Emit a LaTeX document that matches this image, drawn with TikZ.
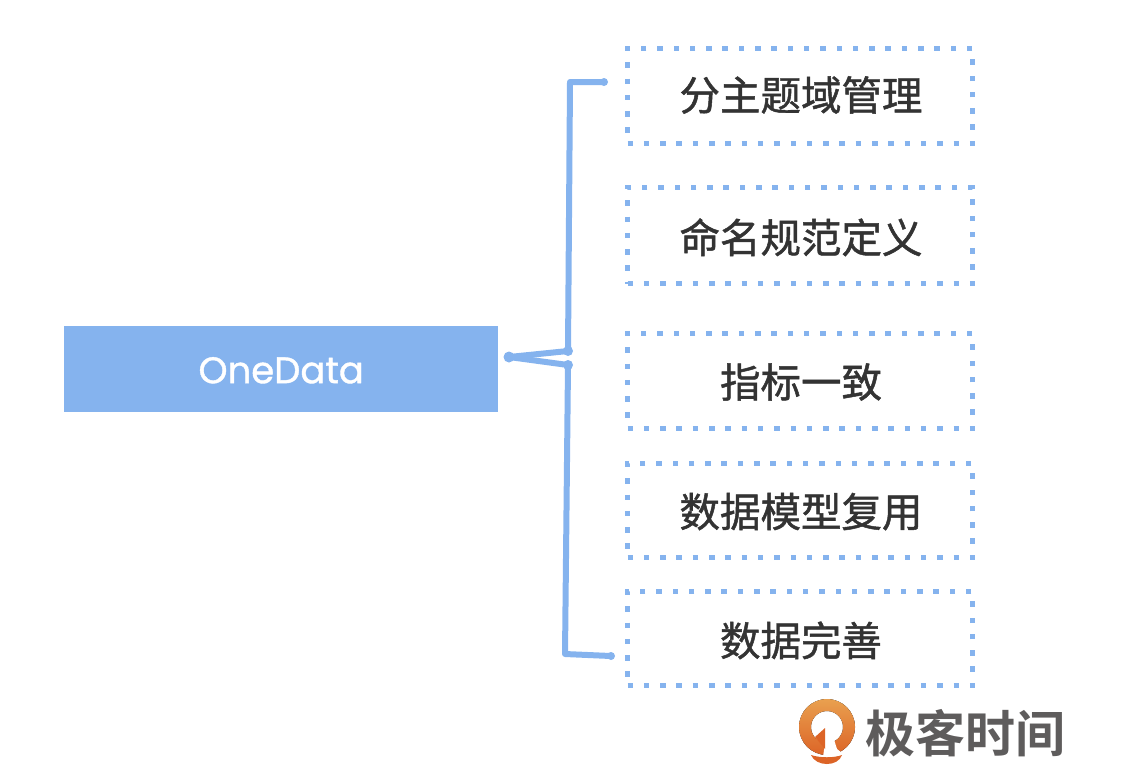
\documentclass[tikz,border=0pt]{standalone}
\usepackage{fontspec}
\newfontfamily\cjk[FakeBold=1.2]{Noto Sans CJK SC}
\newfontfamily\cjkb{Noto Sans CJK SC Bold}
\newfontfamily\latin[FakeBold=1]{Poppins}
\definecolor{blu}{HTML}{85B3EE}
\definecolor{ink}{HTML}{333333}
\definecolor{logogray}{HTML}{5E5C5C}
\definecolor{logoA}{HTML}{E9A04F}
\definecolor{logoB}{HTML}{DC6427}
\newcommand{\shifted}[2]{\raisebox{#1}[30.8pt][0pt]{#2}}
\tikzset{
  x=1pt,y=-1pt,
  itembox/.style={draw=blu,line width=5.5pt,dash pattern=on 5.5pt off 10.8pt,minimum width=345pt,inner sep=0pt,outer sep=0pt,text=ink,font=\cjk\fontsize{40.5}{40.5}\selectfont,anchor=north west},
  brace/.style={draw=blu,line width=6pt,line cap=round,line join=round},
  tip/.style={fill=blu,draw=none,circle,minimum size=11pt,inner sep=0pt}
}
\begin{document}
\begin{tikzpicture}
\useasboundingbox (0,0) rectangle (1142,780);
\node[fill=blu,minimum width=434pt,minimum height=86pt,inner sep=0pt,anchor=north west,text=white,font=\latin\fontsize{37}{37}\selectfont] (root) at (64,326) {\raisebox{-1pt}[26pt][0pt]{OneData}};
\node[itembox,minimum height=95pt] (a) at (627.5,48.5) {\hspace{2pt}\shifted{1pt}{分主题域管理}};
\node[itembox,minimum height=96pt] (b) at (627.5,187.5) {\hspace{2pt}\shifted{-2pt}{命名规范定义}};
\node[itembox,minimum height=95pt] (c) at (627.5,333.5) {\hspace{2pt}\shifted{-1pt}{指标一致}};
\node[itembox,minimum height=94pt] (d) at (627.5,463.5) {\hspace{2pt}\shifted{-1pt}{数据模型复用}};
\node[itembox,minimum height=94pt] (e) at (627.5,591.5) {\hspace{2pt}\shifted{-2pt}{数据完善}};
\coordinate (hub) at (509,357);
\coordinate (j1) at (568,351);
\coordinate (j2) at (568,365);
\coordinate (t1) at (570,82);
\coordinate (t2) at (565,654);
\coordinate (e1) at (604,82);
\coordinate (e2) at (611,656);
\draw[brace] (hub) -- (j1) -- (t1) -- (e1);
\draw[brace] (hub) -- (j2) -- (t2) -- (e2);
\node[tip] at (hub) {};
\node[tip,minimum size=10pt] at (j1) {};
\node[tip,minimum size=10pt] at (j2) {};
\node[tip,minimum size=8pt] at (e1) {};
\node[tip,minimum size=8pt] at (e2) {};
% logo
\fill[top color=logoA,bottom color=logoB,even odd rule]
  (827,727) circle (28pt)
  (827,727) circle (16pt);
\fill[white] (825,727) -- (830,727) -- (837,749) -- (847,757) -- (823,757) -- (824,750) -- cycle;
\fill[logoB] (815,737) -- (825,728) -- (825,749) -- cycle;
\fill[logoB] (811,755) .. controls (820,758) and (834,758) .. (842,755) .. controls (838,767) and (816,767) .. (811,755) -- cycle;
\node[text=logogray,font=\cjkb\fontsize{50}{50}\selectfont,inner sep=0pt] (logo) at (965,733) {极客时间};
\end{tikzpicture}
\end{document}
